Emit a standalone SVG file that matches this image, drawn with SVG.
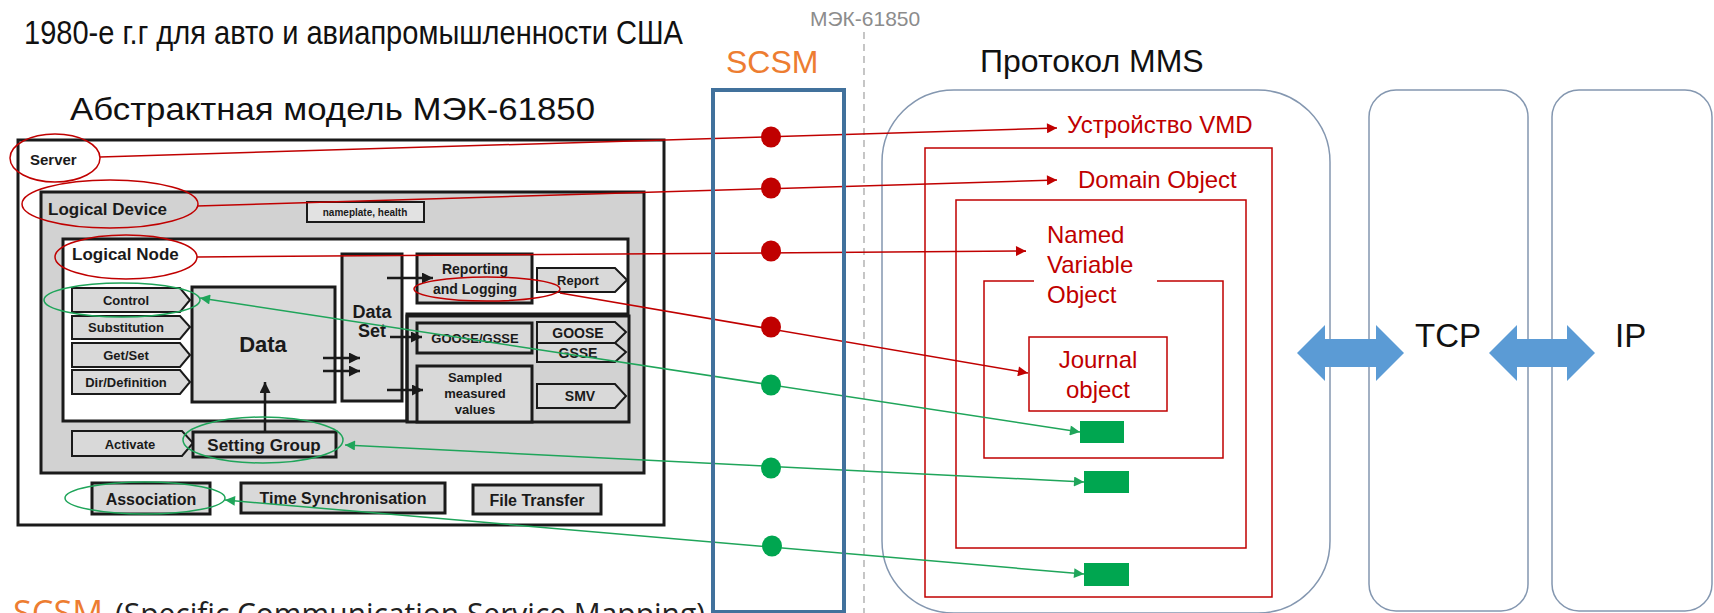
<svg xmlns="http://www.w3.org/2000/svg" width="1714" height="613" viewBox="0 0 1714 613">
<defs>
<style>
.t{font-family:"Liberation Sans",Arial,sans-serif}
.b{font-family:"Liberation Sans",Arial,sans-serif;font-weight:bold;fill:#1a1a1a}
.bx{stroke:#1a1a1a;stroke-width:3;fill:#d9d9d9}
.pg{stroke:#1a1a1a;stroke-width:2;fill:#d9d9d9}
.rd{fill:none;stroke:#C00000;stroke-width:1.5}
.gr{fill:none;stroke:#1FA55A;stroke-width:1.5}
.rt{font-family:"Liberation Sans",Arial,sans-serif;fill:#C00000;font-size:24px}
.ly{fill:none;stroke:#8497B0;stroke-width:1.5}
.blk{stroke:#1a1a1a;stroke-width:2.5}
</style>
<marker id="ar" viewBox="0 0 10 10" refX="10" refY="5" markerWidth="11" markerHeight="10" markerUnits="userSpaceOnUse" orient="auto"><path d="M0,0 L10,5 L0,10 z" fill="#C00000"/></marker>
<marker id="ag" viewBox="0 0 10 10" refX="10" refY="5" markerWidth="11" markerHeight="10" markerUnits="userSpaceOnUse" orient="auto-start-reverse"><path d="M0,0 L10,5 L0,10 z" fill="#1FA55A"/></marker>
<marker id="ak" viewBox="0 0 10 10" refX="10" refY="5" markerWidth="12" markerHeight="11" markerUnits="userSpaceOnUse" orient="auto"><path d="M0,0 L10,5 L0,10 z" fill="#1a1a1a"/></marker>
</defs>
<rect width="1714" height="613" fill="#ffffff"/>

<g id="titles">
<text class="t" x="24" y="44" font-size="33" textLength="659" lengthAdjust="spacingAndGlyphs" fill="#111">1980-е г.г для авто и авиапромышленности США</text>
<text class="t" x="70" y="120" font-size="32" textLength="525" lengthAdjust="spacingAndGlyphs" fill="#111">Абстрактная модель МЭК-61850</text>
<text class="t" x="810" y="26" font-size="21" fill="#8c8c8c">МЭК-61850</text>
<text class="t" x="726" y="73" font-size="32" fill="#ED7D31">SCSM</text>
<text class="t" x="980" y="72" font-size="32" fill="#111">Протокол MMS</text>
<text x="13" y="625" font-family="'Open Sans',sans-serif" font-size="34" fill="#ED7D31" textLength="90" lengthAdjust="spacingAndGlyphs">SCSM</text>
<text x="115" y="625" font-family="'Open Sans',sans-serif" font-size="31" fill="#222" textLength="590" lengthAdjust="spacingAndGlyphs">(Specific Communication Service Mapping)</text>
</g>

<g id="iec-model">
<rect x="18" y="140" width="646" height="385" fill="#fff" stroke="#1a1a1a" stroke-width="3"/>
<text class="b" x="30" y="165" font-size="15">Server</text>
<rect x="41" y="192" width="603" height="281" fill="#d2d2d2" stroke="#1a1a1a" stroke-width="3"/>
<text class="b" x="48" y="215" font-size="17">Logical Device</text>
<rect x="307" y="202" width="117" height="20" fill="#e2e2e2" stroke="#1a1a1a" stroke-width="2"/>
<text class="b" x="365" y="216" font-size="10" text-anchor="middle">nameplate, health</text>
<path d="M63,239 H628 V314 H407 V421 H63 Z" fill="#fff" stroke="#1a1a1a" stroke-width="3"/>
<rect x="407" y="316" width="222" height="106" fill="none" stroke="#1a1a1a" stroke-width="3"/>
<text class="b" x="72" y="260" font-size="17">Logical Node</text>

<g id="pent-control"><path class="pg" d="M72,288 H180 L190,300 L180,312 H72 Z"/><text class="b" x="126" y="305" font-size="13" text-anchor="middle">Control</text></g>
<g id="pent-subst"><path class="pg" d="M72,316 H180 L190,327 L180,339 H72 Z"/><text class="b" x="126" y="332" font-size="13" text-anchor="middle">Substitution</text></g>
<g id="pent-getset"><path class="pg" d="M72,343 H180 L190,355 L180,367 H72 Z"/><text class="b" x="126" y="360" font-size="13" text-anchor="middle">Get/Set</text></g>
<g id="pent-dir"><path class="pg" d="M72,370 H180 L190,382 L180,394 H72 Z"/><text class="b" x="126" y="387" font-size="13" text-anchor="middle">Dir/Definition</text></g>

<g id="data"><rect class="bx" x="192" y="287" width="143" height="115"/><text class="b" x="263" y="352" font-size="22" text-anchor="middle">Data</text></g>
<g id="dataset"><rect class="bx" x="342" y="254" width="60" height="147"/><text class="b" x="372" y="318" font-size="18" text-anchor="middle">Data</text><text class="b" x="372" y="337" font-size="18" text-anchor="middle">Set</text></g>
<g id="reporting"><rect class="bx" x="417" y="254" width="115" height="49"/><text class="b" x="475" y="274" font-size="14" text-anchor="middle">Reporting</text><text class="b" x="475" y="294" font-size="14" text-anchor="middle">and Logging</text></g>
<g id="report"><path class="pg" d="M537,268 H615 L627,280 L615,292 H537 Z"/><text class="b" x="578" y="285" font-size="13" text-anchor="middle">Report</text></g>
<g id="goosegsse"><rect class="bx" x="417" y="323" width="115" height="30"/><text class="b" x="475" y="343" font-size="13" text-anchor="middle">GOOSE/GSSE</text></g>
<g id="goose"><path class="pg" d="M537,322 H615 L626,332 L615,343 H537 Z"/><text class="b" x="578" y="338" font-size="14" text-anchor="middle">GOOSE</text></g>
<g id="gsse"><path class="pg" d="M537,343 H615 L626,352 L615,362 H537 Z"/><text class="b" x="578" y="358" font-size="14" text-anchor="middle">GSSE</text></g>
<g id="sampled"><rect class="bx" x="417" y="366" width="115" height="56"/><text class="b" x="475" y="382" font-size="13" text-anchor="middle">Sampled</text><text class="b" x="475" y="398" font-size="13" text-anchor="middle">measured</text><text class="b" x="475" y="414" font-size="13" text-anchor="middle">values</text></g>
<g id="smv"><path class="pg" d="M537,384 H615 L626,396 L615,408 H537 Z"/><text class="b" x="580" y="401" font-size="14" text-anchor="middle">SMV</text></g>
<g id="activate"><path class="pg" d="M72,431 H182 L193,443 L182,456 H72 Z"/><text class="b" x="130" y="449" font-size="13" text-anchor="middle">Activate</text></g>
<g id="settinggroup"><rect class="bx" x="193" y="432" width="143" height="25"/><text class="b" x="264" y="451" font-size="17" text-anchor="middle">Setting Group</text></g>
<g id="association"><rect class="bx" x="92" y="483" width="118" height="31"/><text class="b" x="151" y="505" font-size="16" text-anchor="middle">Association</text></g>
<g id="timesync"><rect class="bx" x="241" y="483" width="204" height="30"/><text class="b" x="343" y="504" font-size="16" text-anchor="middle">Time Synchronisation</text></g>
<g id="filetransfer"><rect class="bx" x="473" y="485" width="128" height="29"/><text class="b" x="537" y="506" font-size="16" text-anchor="middle">File Transfer</text></g>

<g id="internal-arrows">
<line class="blk" x1="323" y1="358" x2="360" y2="358" marker-end="url(#ak)"/>
<line class="blk" x1="323" y1="371" x2="360" y2="371" marker-end="url(#ak)"/>
<line class="blk" x1="387" y1="278" x2="433" y2="278" marker-end="url(#ak)"/>
<line class="blk" x1="390" y1="337" x2="422" y2="337" marker-end="url(#ak)"/>
<line class="blk" x1="387" y1="390" x2="423" y2="390" marker-end="url(#ak)"/>
<line class="blk" x1="265" y1="432" x2="265" y2="382" marker-end="url(#ak)"/>
</g>
</g>

<g id="highlights">
<ellipse class="rd" cx="55" cy="158" rx="45" ry="24"/>
<ellipse class="rd" cx="110" cy="204" rx="88" ry="24"/>
<ellipse class="rd" cx="126" cy="257" rx="71" ry="22"/>
<ellipse class="rd" cx="487" cy="289" rx="73" ry="12"/>
<ellipse class="gr" cx="122" cy="300" rx="78" ry="17"/>
<ellipse class="gr" cx="263" cy="440" rx="80" ry="23"/>
<ellipse class="gr" cx="145" cy="498" rx="80" ry="16"/>
</g>

<g id="divider"><line x1="864" y1="32" x2="864" y2="613" stroke="#a0a0a0" stroke-width="1.2" stroke-dasharray="7,5"/></g>

<g id="mms">
<rect class="ly" x="882" y="90" width="448" height="523" rx="72"/>
<rect class="rd" x="925" y="148" width="347" height="449"/>
<rect class="rd" x="956" y="200" width="290" height="348"/>
<path class="rd" d="M1034,281 H984 V458 H1223 V281 H1157"/>
<rect class="rd" x="1029" y="337" width="138" height="74"/>
<text class="rt" x="1067" y="133">Устройство VMD</text>
<text class="rt" x="1078" y="188">Domain Object</text>
<text class="rt" x="1047" y="243">Named</text>
<text class="rt" x="1047" y="273">Variable</text>
<text class="rt" x="1047" y="303">Object</text>
<text class="rt" x="1098" y="368" text-anchor="middle">Journal</text>
<text class="rt" x="1098" y="398" text-anchor="middle">object</text>
<rect x="1080" y="421" width="44" height="22" fill="#00A650"/>
<rect x="1084" y="471" width="45" height="22" fill="#00A650"/>
<rect x="1084" y="563" width="45" height="23" fill="#00A650"/>
</g>

<g id="tcp"><rect class="ly" x="1369" y="90" width="159" height="521" rx="27"/><text class="t" x="1415" y="347" font-size="33" fill="#111">TCP</text></g>
<g id="ip"><rect class="ly" x="1552" y="90" width="160" height="521" rx="27"/><text class="t" x="1615" y="347" font-size="33" fill="#111">IP</text></g>

<g id="connectors">
<line class="rd" x1="100" y1="157" x2="1057" y2="128" marker-end="url(#ar)"/>
<line class="rd" x1="197" y1="206" x2="1057" y2="180" marker-end="url(#ar)"/>
<line class="rd" x1="197" y1="257" x2="1026" y2="251" marker-end="url(#ar)"/>
<line class="rd" x1="560" y1="293" x2="1028" y2="373" marker-end="url(#ar)"/>
<line class="gr" x1="200" y1="298" x2="1080" y2="432" marker-start="url(#ag)" marker-end="url(#ag)"/>
<line class="gr" x1="345" y1="445" x2="1084" y2="482" marker-start="url(#ag)" marker-end="url(#ag)"/>
<line class="gr" x1="225" y1="500" x2="1084" y2="574" marker-start="url(#ag)" marker-end="url(#ag)"/>
<path d="M1297,353 L1325,325 V339 H1376 V325 L1404,353 L1376,381 V367 H1325 V381 Z" fill="#5B9BD5"/>
<path d="M1489,353 L1517,325 V339 H1567 V325 L1595,353 L1567,381 V367 H1517 V381 Z" fill="#5B9BD5"/>
</g>

<g id="scsm">
<rect x="713" y="90" width="131" height="522" fill="none" stroke="#41719C" stroke-width="4"/>
<ellipse cx="771" cy="137" rx="10" ry="10.5" fill="#C00000"/>
<ellipse cx="771" cy="188" rx="10" ry="10.5" fill="#C00000"/>
<ellipse cx="771" cy="251" rx="10" ry="10.5" fill="#C00000"/>
<ellipse cx="771" cy="327" rx="10" ry="10.5" fill="#C00000"/>
<ellipse cx="771" cy="385" rx="10" ry="10.5" fill="#00A650"/>
<ellipse cx="771" cy="468" rx="10" ry="10.5" fill="#00A650"/>
<ellipse cx="772" cy="546" rx="10" ry="10.5" fill="#00A650"/>
</g>
</svg>
